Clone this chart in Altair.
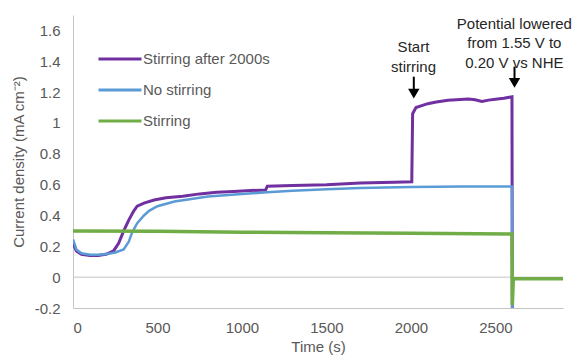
import altair as alt
import pandas as pd

series_names = ["Stirring after 2000s", "No stirring", "Stirring"]
series_colors = ["#7030A0", "#5B9BD5", "#70AD47"]
series_widths = [3, 2.5, 3.5]

purple_t = [0, 20, 50, 100, 150, 200, 240, 270, 300, 330, 360, 380, 420, 480, 550, 650, 750, 850, 950, 1050, 1140, 1150,
            1300, 1500, 1700, 1900, 2005, 2010, 2030, 2100, 2150, 2220, 2340, 2380, 2420, 2460, 2500, 2550, 2598, 2600]
purple_v = [0.22, 0.17, 0.148, 0.14, 0.14, 0.15, 0.17, 0.22, 0.30, 0.37, 0.43, 0.46, 0.48, 0.50, 0.515, 0.525, 0.54, 0.55,
            0.555, 0.562, 0.565, 0.59, 0.595, 0.60, 0.61, 0.615, 0.618, 1.06, 1.10, 1.125, 1.136, 1.147, 1.156, 1.15, 1.14,
            1.148, 1.153, 1.16, 1.17, -0.2]

blue_t = [0, 20, 50, 100, 150, 200, 250, 300, 330, 350, 380, 420, 450, 500, 600, 800, 1000, 1150, 1300, 1500, 1700, 2000,
          2300, 2598, 2600]
blue_v = [0.245, 0.18, 0.155, 0.145, 0.145, 0.15, 0.16, 0.18, 0.23, 0.29, 0.35, 0.40, 0.43, 0.46, 0.49, 0.523, 0.54, 0.55,
          0.56, 0.57, 0.578, 0.585, 0.588, 0.588, -0.2]

green_t = [0, 500, 1000, 1500, 2000, 2598, 2600, 2606, 2900]
green_v = [0.30, 0.298, 0.292, 0.288, 0.285, 0.28, -0.18, -0.01, -0.01]

x_ticks = [0, 500, 1000, 1500, 2000, 2500]
y_ticks = [-0.2, 0, 0.2, 0.4, 0.6, 0.8, 1, 1.2, 1.4, 1.6]

ann_text = ["Start\nstirring", "Potential lowered\nfrom 1.55 V to\n0.20 V vs NHE"]
ann_t = [2015, 2612]
ann_v = [1.535, 1.69]

arrow_t = [2017, 2613]
arrow_top = [1.30, 1.365]
arrow_head = [1.19, 1.26]

rows = []
for name, ts, vs in zip(series_names, [purple_t, blue_t, green_t], [purple_v, blue_v, green_v]):
    for t, v in zip(ts, vs):
        rows.append({"series": name, "t": t, "v": v})
df = pd.DataFrame(rows)

ann_df = pd.DataFrame({"text": ann_text, "t": ann_t, "v": ann_v})
arr_df = pd.DataFrame({"t": arrow_t, "top": arrow_top, "head": arrow_head})

FONT = "Liberation Sans"
GRAY = "#595959"
AXIS_GRAY = "#c4c4c4"

x_scale = alt.Scale(domain=[0, 2900], nice=False, zero=False)
y_scale = alt.Scale(domain=[-0.2, 1.7], nice=False, zero=False)

x_axis = alt.Axis(
    values=x_ticks, format="d", title="Time (s)", grid=False, ticks=False,
    domainColor=AXIS_GRAY, labelColor=GRAY, labelFont=FONT, labelFontSize=15, labelPadding=12,
    titleFont=FONT, titleFontSize=15, titleFontWeight="normal", titleColor=GRAY,
    titleBaseline="top", titleY=31)
y_axis = alt.Axis(
    values=y_ticks, labelExpr="toString(round(datum.value*10)/10)", title="Current density (mA cm⁻²)",
    grid=False, ticks=False, domainColor=AXIS_GRAY, labelColor=GRAY, labelFont=FONT, labelFontSize=15,
    labelPadding=13, titleFont=FONT, titleFontSize=15, titleFontWeight="normal", titleColor=GRAY,
    titleX=-47, titleBaseline="bottom")

x_enc = alt.X("t:Q", scale=x_scale, axis=x_axis)
y_enc = alt.Y("v:Q", scale=y_scale, axis=y_axis)

color_scale = alt.Scale(domain=series_names, range=series_colors)

zero_rule = alt.Chart(pd.DataFrame({"v": [0]})).mark_rule(color=AXIS_GRAY, strokeWidth=1).encode(y=y_enc)

layers = [zero_rule]
for i, name in enumerate(series_names):
    legend = alt.Legend(
        orient="none", legendX=24, legendY=21, direction="vertical", title=None,
        symbolType="stroke", symbolSize=1849, symbolStrokeWidth=3, rowPadding=-10.5,
        labelFont=FONT, labelFontSize=15, labelColor=GRAY, labelOffset=0, padding=0,
    ) if i == 0 else None
    c = alt.Chart(df).transform_filter(alt.datum.series == name).mark_line(
        strokeWidth=series_widths[i], clip=True).encode(
        x=x_enc, y=y_enc,
        color=alt.Color("series:N", scale=color_scale, legend=legend),
    )
    layers.append(c)

shafts = alt.Chart(arr_df).mark_rule(color="black", strokeWidth=2).encode(
    x=alt.X("t:Q", scale=x_scale, axis=x_axis), y=alt.Y("top:Q", scale=y_scale, axis=y_axis), y2="head:Q")
heads = alt.Chart(arr_df).mark_point(shape="triangle-down", filled=True, size=130, color="black", opacity=1).encode(
    x=alt.X("t:Q", scale=x_scale, axis=x_axis), y=alt.Y("head:Q", scale=y_scale, axis=y_axis))
texts = alt.Chart(ann_df).mark_text(font=FONT, fontSize=15, color="#262626", align="center", baseline="top",
                                     lineBreak="\n", lineHeight=19.5).encode(
    x=alt.X("t:Q", scale=x_scale, axis=x_axis), y=alt.Y("v:Q", scale=y_scale, axis=y_axis), text="text:N")

chart = alt.layer(*layers, shafts, heads, texts).properties(
    width=490, height=293,
    autosize=alt.AutoSizeParams(type="none"),
    padding={"left": 65, "top": 7, "right": 10, "bottom": 48},
).configure_view(stroke=None)

chart.save("out.html", embed_options={"renderer": "svg", "actions": False})
